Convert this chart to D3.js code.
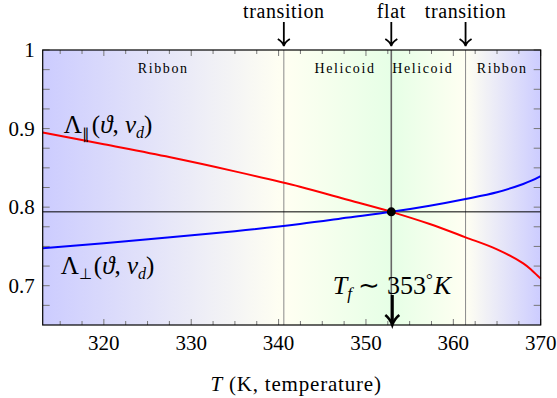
<!DOCTYPE html>
<html>
<head>
<meta charset="utf-8">
<script src="https://cdn.jsdelivr.net/npm/d3@7"></script>
<style>
  body { margin: 0; background: #fff; }
</style>
</head>
<body>
<div id="chart"></div>
<script>
// temperature samples (K) and the two curves
var temps      = [313, 320, 327.6, 335, 342.45, 348, 352.9, 357.3, 361.4, 365, 368, 369, 370];
var lambdaPar  = [0.895, 0.880, 0.8634, 0.8455, 0.826, 0.809, 0.794, 0.7785, 0.7616, 0.7463, 0.7285, 0.7195, 0.709];
var lambdaPerp = [0.7477, 0.7542, 0.7616, 0.7694, 0.7785, 0.7867, 0.794, 0.8018, 0.8104, 0.819, 0.8295, 0.834, 0.8396];

// crossing point
var flatT = 352.9, flatVal = 0.794;
// phase boundaries
var transitions = [340.6, 361.4];
var bgBounds = [313, 340.6, 352.9, 361.4, 370];
var bgColors = ["#ccccff", "#fffff2", "#e6ffe6", "#fffff2", "#ccccff"];
// region labels (T position)
var regionNames = ["Ribbon", "Helicoid", "Helicoid", "Ribbon"];
var regionT = [326.8, 347.6, 356.5, 365.6];
// top markers
var markerNames = ["transition", "flat", "transition"];
var markerT = [340.6, 352.9, 361.4];

var xTicks = [320, 330, 340, 350, 360, 370];
var yTicks = [0.7, 0.8, 0.9, 1];

var FONT = "Liberation Serif";

var W = 557, H = 398;
var margin = {top: 50, right: 16.3, bottom: 73, left: 42.7};
var width = W - margin.left - margin.right,
    height = H - margin.top - margin.bottom;

var svg = d3.select("#chart").append("svg")
  .attr("width", W).attr("height", H);
var g = svg.append("g")
  .attr("transform", "translate(" + margin.left + "," + margin.top + ")");

var label = function(sel, size) {
  return sel.append("text").attr("font-family", FONT).attr("font-size", size).attr("fill", "#000");
};
var span = function(t, txt, opts) {
  opts = opts || {};
  var s = t.append("tspan").text(txt);
  if (opts.it) s.attr("font-style", "italic");
  if (opts.size) s.attr("font-size", opts.size);
  if (opts.dy) s.attr("dy", opts.dy);
  if (opts.dx) s.attr("dx", opts.dx);
  return s;
};

var x = d3.scaleLinear().domain([313, 370]).range([0, width]);
var y = d3.scaleLinear().domain([0.65, 1]).range([height, 0]);

// background shading
var grad = svg.append("defs").append("linearGradient")
  .attr("id", "bg").attr("gradientUnits", "userSpaceOnUse")
  .attr("x1", x(313)).attr("x2", x(370)).attr("y1", 0).attr("y2", 0);
bgBounds.forEach(function(t, i) {
  grad.append("stop")
    .attr("offset", (t - 313) / (370 - 313))
    .attr("stop-color", bgColors[i]);
});
g.append("rect").attr("width", width).attr("height", height).attr("fill", "url(#bg)");

// vertical guide lines
transitions.forEach(function(t) {
  g.append("line").attr("x1", x(t)).attr("x2", x(t)).attr("y1", 0).attr("y2", height)
    .attr("stroke", "#8a8a8a").attr("stroke-width", 1);
});
g.append("line").attr("x1", x(flatT)).attr("x2", x(flatT)).attr("y1", 0).attr("y2", height)
  .attr("stroke", "#666").attr("stroke-width", 1.6);

// horizontal line through crossing
g.append("line").attr("x1", 0).attr("x2", width).attr("y1", y(flatVal)).attr("y2", y(flatVal))
  .attr("stroke", "#000").attr("stroke-width", 1);

// ticks (inside, all four sides)
var tickCol = "#777";
d3.range(315, 370.01, 2.5).forEach(function(t) {
  var len = (t % 10 === 0) ? 6 : 4;
  g.append("line").attr("x1", x(t)).attr("x2", x(t)).attr("y1", height).attr("y2", height - len).attr("stroke", tickCol);
  g.append("line").attr("x1", x(t)).attr("x2", x(t)).attr("y1", 0).attr("y2", len).attr("stroke", tickCol);
});
d3.range(0.675, 1.0001, 0.025).forEach(function(v) {
  g.append("line").attr("x1", 0).attr("x2", 7).attr("y1", y(v)).attr("y2", y(v)).attr("stroke", tickCol);
  g.append("line").attr("x1", width).attr("x2", width - 7).attr("y1", y(v)).attr("y2", y(v)).attr("stroke", tickCol);
});

// curves
var line = d3.line().curve(d3.curveCatmullRom.alpha(0.5));
g.append("path")
  .attr("d", line(temps.map(function(t, i) { return [x(t), y(lambdaPar[i])]; })))
  .attr("fill", "none").attr("stroke", "#ff0000").attr("stroke-width", 2);
g.append("path")
  .attr("d", line(temps.map(function(t, i) { return [x(t), y(lambdaPerp[i])]; })))
  .attr("fill", "none").attr("stroke", "#0000ff").attr("stroke-width", 2);

g.append("circle").attr("cx", x(flatT)).attr("cy", y(flatVal)).attr("r", 4.5).attr("fill", "#000");

// frame
g.append("rect").attr("width", width).attr("height", height)
  .attr("fill", "none").attr("stroke", "#000").attr("stroke-width", 1.2);

// axis labels
xTicks.forEach(function(t) {
  label(g, 21).attr("x", x(t)).attr("y", height + 25)
    .attr("text-anchor", "middle").text(t);
});
yTicks.forEach(function(v) {
  label(g, 21).attr("x", -8).attr("y", y(v) + 7)
    .attr("text-anchor", "end").text(v);
});
var xt = label(g, 21).attr("x", x(342)).attr("y", height + 66)
  .attr("text-anchor", "middle").attr("letter-spacing", 0.8);
span(xt, "T", {it: true});
span(xt, " (K, temperature)");

// region labels
regionNames.forEach(function(n, i) {
  label(g, 14).attr("x", x(regionT[i])).attr("y", 23)
    .attr("text-anchor", "middle")
    .attr("letter-spacing", 1.6).text(n);
});

// top markers with arrows
markerNames.forEach(function(n, i) {
  var mx = x(markerT[i]);
  label(g, 20).attr("x", mx).attr("y", -32)
    .attr("text-anchor", "middle").attr("letter-spacing", 0.6).text(n);
  g.append("path")
    .attr("d", "M" + mx + "," + (-28) + "V" + (-4) +
               "M" + (mx - 6) + "," + (-11) + "Q" + (mx - 1) + "," + (-8) + " " + mx + "," + (-4) +
               "Q" + (mx + 1) + "," + (-8) + " " + (mx + 6) + "," + (-11))
    .attr("fill", "none").attr("stroke", "#000").attr("stroke-width", 1.8);
});

// curve labels
var lp = label(g, 25).attr("x", 21).attr("y", y(0.9) + 4);
span(lp, "Λ");
span(lp, "∥", {size: 15, dy: 6});
span(lp, "(", {dy: -6, dx: 2});
span(lp, "ϑ", {it: true});
span(lp, ", ");
span(lp, "v", {it: true});
span(lp, "d", {it: true, size: 16, dy: 5});
span(lp, ")", {dy: -5});

var lq = label(g, 25).attr("x", 18).attr("y", y(0.7) - 12);
span(lq, "Λ");
span(lq, "⊥", {size: 15, dy: 5});
span(lq, "(", {dy: -5, dx: 2});
span(lq, "ϑ", {it: true});
span(lq, ", ");
span(lq, "v", {it: true});
span(lq, "d", {it: true, size: 16, dy: 5});
span(lq, ")", {dy: -5});

// T_f annotation with arrow
var tf = label(g, 26).attr("x", x(346.2)).attr("y", height - 31);
span(tf, "T", {it: true});
span(tf, "f", {it: true, size: 17, dy: 5});
span(tf, " ∼ 353", {dy: -5});
span(tf, "°", {size: 17, dy: -9});
span(tf, "K", {it: true, dy: 9, dx: 1});

var ax = x(flatT) + 1;
g.append("path").attr("d", "M" + ax + "," + (height - 30) + "V" + (height - 2))
  .attr("stroke", "#000").attr("stroke-width", 3);
g.append("path")
  .attr("d", "M" + (ax - 7) + "," + (height - 10) + "Q" + (ax - 2) + "," + (height - 6) + " " + ax + "," + height +
             "Q" + (ax + 2) + "," + (height - 6) + " " + (ax + 7) + "," + (height - 10))
  .attr("fill", "none").attr("stroke", "#000").attr("stroke-width", 2.6);
</script>
</body>
</html>
